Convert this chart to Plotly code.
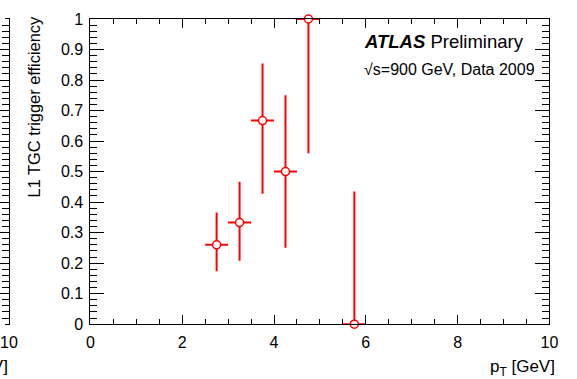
import plotly.graph_objects as go

# L1 TGC trigger efficiency per pT bin (bin width 0.5 GeV)
pt_center = [2.75, 3.25, 3.75, 4.25, 4.75, 5.75]
pt_halfwidth = [0.25, 0.25, 0.25, 0.25, 0.25, 0.25]
efficiency = [0.26, 0.333, 0.667, 0.5, 1.0, 0.0]
err_up = [0.106, 0.134, 0.187, 0.25, 0.0, 0.435]
err_down = [0.087, 0.125, 0.24, 0.25, 0.44, 0.0]

x_ticks = [0, 2, 4, 6, 8, 10]

W, H = 577, 379
FONT = "Liberation Sans, Arial, Helvetica, sans-serif"
RED = "#ff0000"


def px_x(p):
    return p / W


def px_y(p):
    return 1 - p / H


x_dom = [px_x(87.5), px_x(558)]
y_dom = [px_y(331), px_y(11.5)]

fig = go.Figure()

fig.add_trace(go.Scatter(
    x=pt_center,
    y=efficiency,
    mode="markers",
    cliponaxis=False,
    marker=dict(symbol="circle", size=8, color="white",
                line=dict(color=RED, width=1.5)),
    error_x=dict(type="data", array=pt_halfwidth, symmetric=True,
                 color=RED, thickness=2, width=0),
    error_y=dict(type="data", array=err_up, arrayminus=err_down,
                 symmetric=False, color=RED, thickness=2, width=0),
    showlegend=False,
))

# neighbouring panel, only its right edge is visible
fig.add_trace(go.Scatter(x=[10], y=[-1], xaxis="x2", yaxis="y2",
                         mode="markers", showlegend=False,
                         marker=dict(opacity=0)))

axis_common = dict(
    showgrid=False, zeroline=False, showline=True, linecolor="black",
    linewidth=1, ticks="inside", tickcolor="black", tickwidth=1,
    tickfont=dict(family=FONT, size=16, color="black"),
)

fig.update_layout(
    width=W, height=H,
    margin=dict(l=0, r=0, t=0, b=0),
    paper_bgcolor="white", plot_bgcolor="white",
    xaxis=dict(
        domain=x_dom, range=[0, 10], tickvals=x_ticks,
        ticklen=9, mirror="allticks", anchor="y",
        minor=dict(dtick=0.5, ticklen=5, ticks="inside", tickcolor="black",
                   showgrid=False),
        ticklabelstandoff=4,
        **axis_common,
    ),
    yaxis=dict(
        domain=y_dom, range=[0, 1], dtick=0.1,
        ticklen=14, mirror="allticks", anchor="x",
        minor=dict(dtick=0.02, ticklen=7, ticks="inside", tickcolor="black",
                   showgrid=False),
        ticklabelstandoff=3,
        **axis_common,
    ),
    xaxis2=dict(
        domain=[0, px_x(4)], range=[10 - 4 / 47, 10], tickvals=[10],
        ticktext=["10"], ticklen=0, mirror=True, anchor="y2",
        ticklabeloverflow="allow", ticklabelstandoff=4,
        **{k: v for k, v in axis_common.items() if k != "ticks"},
        ticks="",
    ),
    yaxis2=dict(
        domain=y_dom, range=[0, 1], dtick=0.1, side="right",
        ticklen=14, anchor="x2", showticklabels=False,
        minor=dict(dtick=0.02, ticklen=7, ticks="inside", tickcolor="black",
                   showgrid=False),
        **axis_common,
    ),
)

annotations = [
    dict(text="<b><i>ATLAS</i></b> Preliminary", x=px_x(366), y=px_y(35.5),
         xanchor="left", yanchor="middle", font_size=18.5),
    dict(text="√s=900 GeV, Data 2009", x=px_x(366), y=px_y(64),
         xanchor="left", yanchor="middle", font_size=16),
    dict(text="L1 TGC trigger efficiency", textangle=-90,
         x=px_x(30), y=px_y(7), xanchor="center", yanchor="top",
         font_size=16.4),
    dict(text="p<sub>T</sub> [GeV]", x=px_x(566), y=px_y(391),
         xanchor="right", yanchor="bottom", font_size=17),
    dict(text="p<sub>T</sub> [GeV]", x=px_x(5), y=px_y(391),
         xanchor="right", yanchor="bottom", font_size=17),
]
for a in annotations:
    size = a.pop("font_size", 18)
    a.update(xref="paper", yref="paper", showarrow=False,
             font=dict(family=FONT, size=size, color="black"))
fig.update_layout(annotations=annotations)

fig.write_html("out.html")
